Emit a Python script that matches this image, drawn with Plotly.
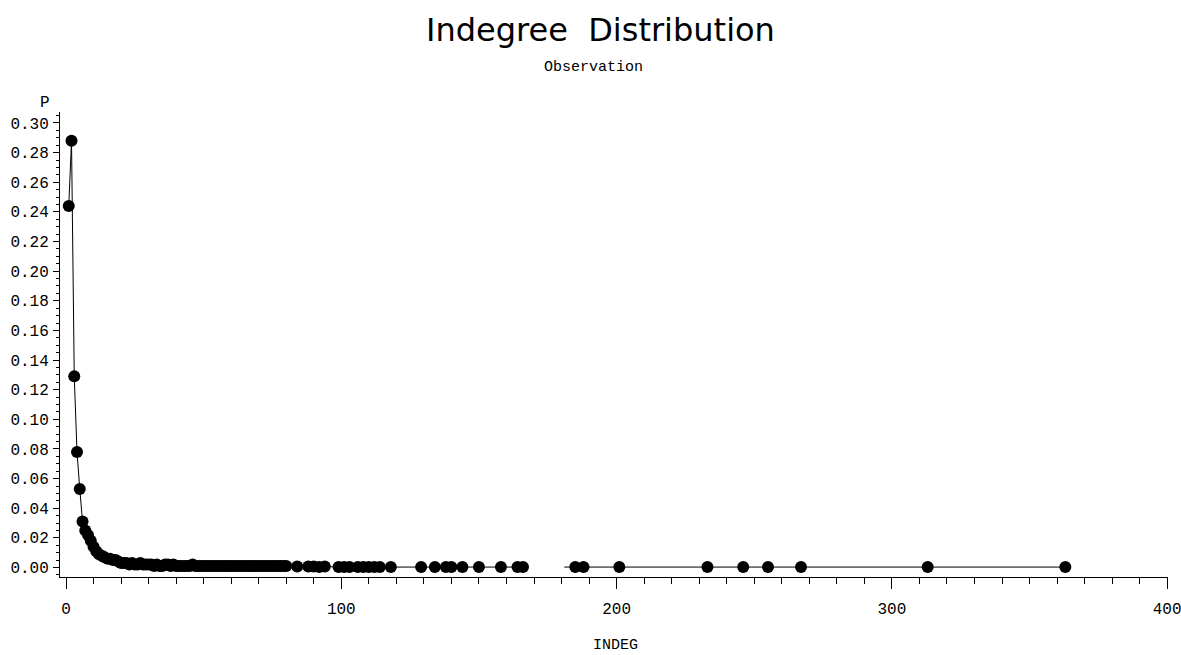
import plotly.graph_objects as go

# Observed indegree values and their relative frequencies (first run of the series)
indeg = list(range(1, 81)) + [84, 88, 90, 92, 94, 99, 101, 103, 106, 108, 110, 112, 114,
                               118, 129, 134, 138, 140, 144, 150, 158, 164, 166]
p = [0.244, 0.288, 0.129, 0.078, 0.053, 0.031, 0.025, 0.022, 0.018, 0.014,
     0.011, 0.009, 0.008, 0.007, 0.006, 0.006, 0.005, 0.005, 0.004, 0.003,
     0.003, 0.003, 0.002, 0.003, 0.002, 0.002, 0.003, 0.002, 0.002, 0.002,
     0.002, 0.001, 0.002, 0.001, 0.001, 0.002, 0.002, 0.001, 0.002, 0.001,
     0.001, 0.001, 0.001, 0.001, 0.001, 0.002, 0.001, 0.001, 0.001, 0.001,
     0.001, 0.001, 0.001, 0.001, 0.001, 0.001, 0.001, 0.001, 0.001, 0.001,
     0.001, 0.001, 0.001, 0.001, 0.001, 0.001, 0.001, 0.001, 0.001, 0.001,
     0.001, 0.001, 0.001, 0.001, 0.001, 0.001, 0.001, 0.001, 0.001, 0.001,
     0.0007, 0.0007, 0.0007, 0.0003, 0.0007, 0.0003, 0.0003, 0.0003, 0.0003, 0.0003,
     0.0003, 0.0003, 0.0003, 0.0003, 0.0003, 0.0003, 0.0003, 0.0003, 0.0003, 0.0003,
     0.0003, 0.0003, 0.0003]

# Second run of the series (line resumes at 181; that value has no symbol)
indeg_tail = [181, 185, 188, 201, 233, 246, 255, 267, 313, 363]
p_tail = [0.0003, 0.0003, 0.0003, 0.0003, 0.0003, 0.0003, 0.0003, 0.0003, 0.0003, 0.0003]

mono = "Liberation Mono, DejaVu Sans Mono, monospace"
sans = "DejaVu Sans, sans-serif"

fig = go.Figure()
fig.add_trace(go.Scatter(
    x=indeg, y=p, mode="lines+markers",
    line=dict(color="black", width=1),
    marker=dict(color="black", size=12),
    showlegend=False,
))
fig.add_trace(go.Scatter(
    x=indeg_tail, y=p_tail, mode="lines",
    line=dict(color="black", width=1),
    showlegend=False,
))
fig.add_trace(go.Scatter(
    x=indeg_tail[1:], y=p_tail[1:], mode="markers",
    marker=dict(color="black", size=12),
    showlegend=False,
))

W, H = 1181, 655
L, R, T, B = 60, 13, 112, 78

fig.update_layout(
    width=W, height=H,
    margin=dict(l=L, r=R, t=T, b=B, autoexpand=False),
    paper_bgcolor="white", plot_bgcolor="white",
    font=dict(family=mono, size=15, color="black"),
)
fig.update_xaxes(
    range=[-2.18, 400.3], showgrid=False, zeroline=False, automargin=False,
    showline=True, linecolor="black", linewidth=1,
    tickmode="linear", tick0=0, dtick=100,
    ticks="outside", ticklen=11, tickcolor="black", tickwidth=1,
    minor=dict(dtick=10, tick0=0, ticks="outside", ticklen=6, tickcolor="black"),
    ticklabelstandoff=6, ticklabeloverflow="allow",
    tickfont=dict(family=mono, size=16),
)
fig.update_yaxes(
    range=[-0.0064, 0.3074], showgrid=False, zeroline=False, automargin=False,
    showline=True, linecolor="black", linewidth=1,
    tickmode="linear", tick0=0, dtick=0.02, tickformat=".2f",
    ticks="outside", ticklen=6, tickcolor="black", tickwidth=1,
    minor=dict(dtick=0.005, tick0=0, ticks="outside", ticklen=3, tickcolor="black"),
    ticklabelstandoff=1, ticklabeloverflow="allow",
    tickfont=dict(family=mono, size=16),
)

fig.add_annotation(text="Indegree  Distribution", x=600, y=30, showarrow=False,
                   font=dict(family=sans, size=32, color="black"))
fig.add_annotation(text="Observation", x=593, y=67, showarrow=False,
                   font=dict(family=mono, size=15, color="black"))
fig.add_annotation(text="P", x=45, y=103, showarrow=False,
                   font=dict(family=mono, size=16, color="black"))
fig.add_annotation(text="INDEG", x=615, y=645, showarrow=False,
                   font=dict(family=mono, size=15, color="black"))

# Place the text annotations in pixel coordinates of the page
pw, ph = W - L - R, H - T - B
for a in fig.layout.annotations:
    px, py = a.x, a.y
    a.xref, a.yref = "paper", "paper"
    a.x = (px - L) / pw
    a.y = 1 - (py - T) / ph
    a.xanchor, a.yanchor = "center", "middle"

fig.write_html("out.html")
